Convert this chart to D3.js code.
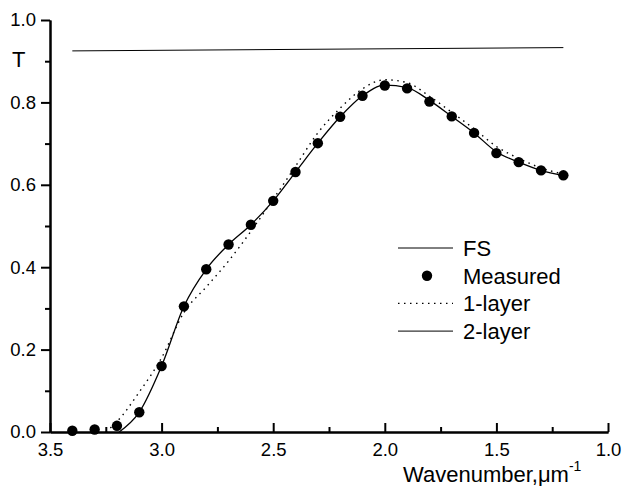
<!DOCTYPE html>
<html lang="en">
<head>
  <meta charset="utf-8">
  <title>Transmission vs wavenumber</title>
  <script src="https://cdn.jsdelivr.net/npm/d3@7"></script>
  <style>
    body { margin: 0; background: #fff; }
    text { font-family: "Liberation Sans", Arial, sans-serif; fill: #000; }
  </style>
</head>
<body>
  <div class="chart"></div>

  <script>
    var w = 622,
      h = 486;

    // data
    var fsX = [3.4, 1.2];
    var fsT = [0.925, 0.933];

    var measX = [3.4, 3.3, 3.2, 3.1, 3.0, 2.9, 2.8, 2.7, 2.6, 2.5, 2.4, 2.3, 2.2, 2.1, 2.0, 1.9, 1.8, 1.7, 1.6, 1.5, 1.4, 1.3, 1.2];
    var measT = [0.003, 0.006, 0.015, 0.048, 0.16, 0.305, 0.395, 0.455, 0.503, 0.561, 0.631, 0.701, 0.765, 0.816, 0.841, 0.834, 0.802, 0.766, 0.726, 0.677, 0.655, 0.635, 0.623];

    var oneX = [3.25, 3.2, 3.1, 3.0, 2.9, 2.8, 2.7, 2.6, 2.5, 2.4, 2.3, 2.2, 2.1, 2.0, 1.9, 1.8, 1.7, 1.6, 1.5, 1.4, 1.3, 1.2];
    var oneT = [0.0, 0.025, 0.097, 0.18, 0.29, 0.352, 0.415, 0.487, 0.565, 0.645, 0.726, 0.786, 0.833, 0.855, 0.848, 0.815, 0.776, 0.736, 0.693, 0.664, 0.641, 0.626];

    var twoX = [3.19, 3.1, 3.0, 2.9, 2.8, 2.7, 2.6, 2.5, 2.4, 2.3, 2.2, 2.1, 2.0, 1.9, 1.8, 1.7, 1.6, 1.5, 1.4, 1.3, 1.2];
    var twoT = [0.0, 0.048, 0.16, 0.305, 0.395, 0.455, 0.503, 0.561, 0.631, 0.701, 0.765, 0.816, 0.842, 0.836, 0.805, 0.766, 0.726, 0.68, 0.655, 0.635, 0.622];

    var xMajor = [3.5, 3.0, 2.5, 2.0, 1.5, 1.0];
    var xMinor = [3.25, 2.75, 2.25, 1.75, 1.25];
    var yMajor = [0.0, 0.2, 0.4, 0.6, 0.8, 1.0];
    var yMinor = [0.1, 0.3, 0.5, 0.7, 0.9];

    var legendItems = ["FS", "Measured", "1-layer", "2-layer"];

    var zip = function(xs, ys) {
      return xs.map(function(x, i) { return [x, ys[i]]; });
    };

    var svg = d3.select('.chart')
      .append('svg')
      .attr('width', w)
      .attr('height', h);

    var x = d3.scaleLinear().domain([3.5, 1.0]).range([50, 608]);
    var y = d3.scaleLinear().domain([0, 1]).range([432, 20]);

    // y axis: ticks outward
    var yAxis = svg.append('g')
      .attr('transform', 'translate(50,0)')
      .call(d3.axisLeft(y).tickValues(yMajor).tickSize(9).tickSizeOuter(0).tickPadding(5).tickFormat(d3.format('.1f')));
    svg.append('g')
      .attr('transform', 'translate(50,0)')
      .call(d3.axisLeft(y).tickValues(yMinor).tickSize(5).tickSizeOuter(0).tickFormat(''));

    // x axis: ticks inward
    var xAxis = svg.append('g')
      .attr('transform', 'translate(0,432)')
      .call(d3.axisTop(x).tickValues(xMajor).tickSize(9).tickSizeOuter(0).tickFormat(d3.format('.1f')));
    xAxis.selectAll('.tick text').attr('y', 24).attr('dy', 0);
    svg.append('g')
      .attr('transform', 'translate(0,432)')
      .call(d3.axisTop(x).tickValues(xMinor).tickSize(5).tickSizeOuter(0).tickFormat(''));

    svg.selectAll('.domain, .tick line').attr('stroke', '#000').attr('stroke-width', 2);
    svg.selectAll('.tick text').style('font-size', '18.5px').attr('fill', '#000');

    // axis titles
    svg.append('text').attr('x', 12).attr('y', 67).style('font-size', '22px').text('T');
    var xt = svg.append('text').attr('x', 403).attr('y', 482).style('font-size', '22px');
    xt.append('tspan').text('Wavenumber,\u03bcm');
    xt.append('tspan').attr('dy', -11).style('font-size', '14px').text('-1');

    var line = d3.line()
      .x(function(d) { return x(d[0]); })
      .y(function(d) { return y(d[1]); });
    var smooth = d3.line()
      .curve(d3.curveMonotoneX)
      .x(function(d) { return x(d[0]); })
      .y(function(d) { return y(d[1]); });

    // FS
    svg.append('path')
      .attr('d', line(zip(fsX, fsT)))
      .attr('fill', 'none').attr('stroke', '#000').attr('stroke-width', 1);

    // 1-layer (dotted)
    svg.append('path')
      .attr('d', smooth(zip(oneX, oneT)))
      .attr('fill', 'none').attr('stroke', '#000').attr('stroke-width', 1.4)
      .attr('stroke-dasharray', '1.5,4.5');

    // 2-layer (solid)
    svg.append('path')
      .attr('d', smooth(zip(twoX, twoT)))
      .attr('fill', 'none').attr('stroke', '#000').attr('stroke-width', 1.3);

    // measured
    svg.selectAll('circle.meas')
      .data(zip(measX, measT))
      .enter()
      .append('circle')
      .attr('class', 'meas')
      .attr('cx', function(d) { return x(d[0]); })
      .attr('cy', function(d) { return y(d[1]); })
      .attr('r', 5.2)
      .attr('fill', '#000');

    // legend
    var lg = svg.append('g').attr('transform', 'translate(398,248)');
    legendItems.forEach(function(name, i) {
      var row = lg.append('g').attr('transform', 'translate(0,' + (i * 27.7) + ')');
      if (name === 'Measured') {
        row.append('circle').attr('cx', 29).attr('cy', 0).attr('r', 5.2).attr('fill', '#000');
      } else {
        var l = row.append('line').attr('x1', 0).attr('x2', 55).attr('y1', 0).attr('y2', 0)
          .attr('stroke', '#000').attr('stroke-width', name === '1-layer' ? 1.4 : 1);
        if (name === '1-layer') l.attr('stroke-dasharray', '1.5,4.5');
      }
      row.append('text').attr('x', 65).attr('y', 8).style('font-size', '22px').text(name);
    });
  </script>
</body>
</html>
